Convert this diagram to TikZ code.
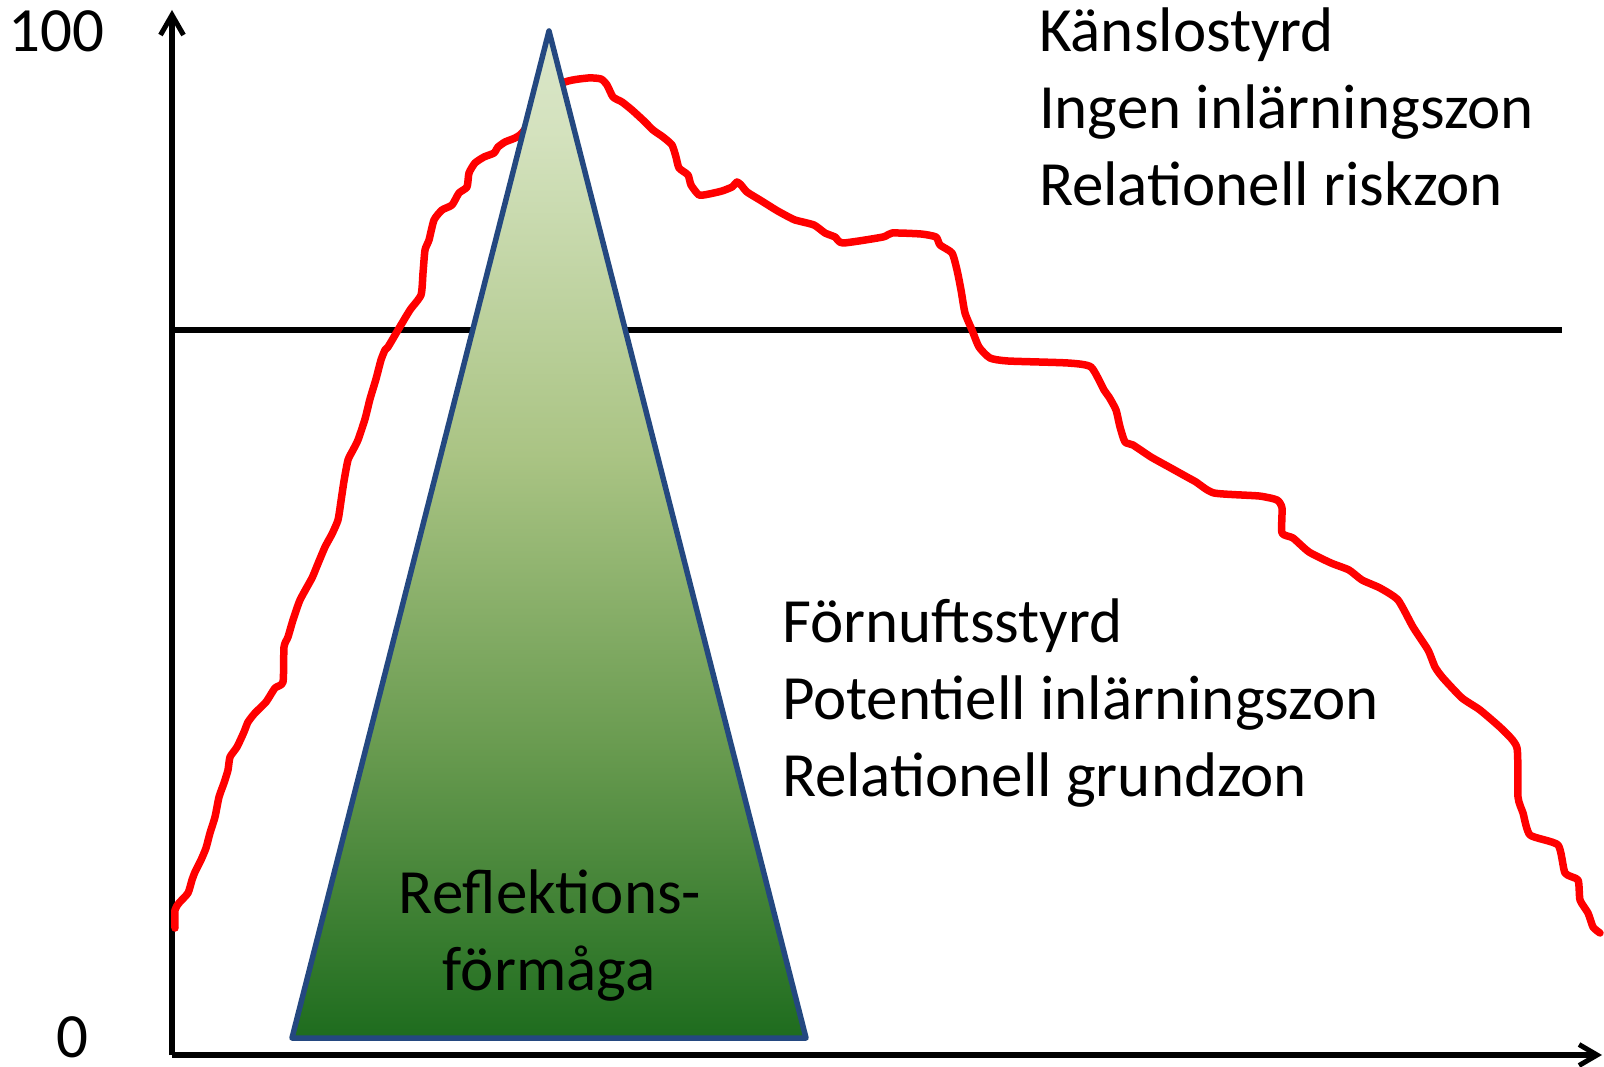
\documentclass[tikz,border=0pt]{standalone}
\usepackage{fontspec}
\setmainfont{Carlito}
\usetikzlibrary{arrows.meta}
\definecolor{curvered}{RGB}{255,0,0}
\definecolor{triblue}{RGB}{36,72,128}
\definecolor{ctop}{RGB}{218,230,201}
\definecolor{cten}{RGB}{212,226,190}
\definecolor{cmid}{RGB}{170,196,132}
\definecolor{clow}{RGB}{105,155,80}
\definecolor{cbot}{RGB}{30,108,30}
\pgfdeclareverticalshading{trishade}{100bp}{color(0bp)=(cbot); color(25bp)=(cbot); color(39.5bp)=(clow); color(54bp)=(cmid); color(70bp)=(cten); color(75bp)=(ctop); color(100bp)=(ctop)}
\tikzset{
  axisline/.style={line width=5.5pt, draw=black},
  lbl/.style={inner sep=0pt, outer sep=0pt, font=\fontsize{63}{76}\selectfont, text=black},
  redcurve/.style={draw=curvered, line width=7.5pt, line join=round, line cap=round},
}
\begin{document}
\begin{tikzpicture}[x=1pt,y=-1pt]
\useasboundingbox (0,0) rectangle (1604,1067);
\fill[white] (0,0) rectangle (1604,1067);

% axes
\coordinate (origin) at (172,1055);
\coordinate (ytop) at (172,10);
\coordinate (xend) at (1602,1055);
\coordinate (hl) at (172,330);
\coordinate (hr) at (1562,330);
\draw[axisline, -{Straight Barb[length=20pt,width=23pt,line width=5pt]}] (origin) -- (ytop);
\draw[axisline, -{Straight Barb[length=18pt,width=21pt,line width=5pt]}] (origin) -- (xend);
\draw[axisline] (hl) -- (hr);

% red curve
\draw[redcurve] plot[smooth, tension=0.35] coordinates {
(175,928)(175,910)(179,903)(188,893)(192,880)(195,872)(201,860)(206,848)(210,833)(215,817)(219,797)(224,783)(228,770)(230,757)(237,747)(244,732)(248,722)(255,713)(266,702)(275,688)(283,682)(284,647)(288,637)(293,620)(300,600)(312,578)(317,566)(325,547)(332,534)(338,520)(341,501)(344,481)(348,460)(353,450)(358,440)(365,419)(370,399)(376,379)(381,360)(385,350)(388,347)(398,330)(410,310)(421,295)(423,273)(425,250)(429,240)(434,220)(442,210)(452,205)(459,193)(467,187)(469,173)(475,163)(484,157)(494,153)(498,147)(505,142)(515,138)(522,133)(540,110)(563,83)(588,78)(601,79)(607,85)(613,97)(622,102)(632,110)(644,121)(653,130)(663,137)(672,145)(676,157)(679,168)(688,175)(691,185)(699,195)(709,194)(722,191)(732,187)(737,182)(741,185)(747,192)(760,200)(776,210)(785,215)(795,220)(814,225)(825,233)(835,237)(843,243)(883,237)(892,233)(921,234)(936,237)(940,245)(952,253)(957,270)(961,290)(965,313)(972,330)(979,347)(990,358)(1008,361)(1068,363)(1091,367)(1104,390)(1109,397)(1116,410)(1120,427)(1125,442)(1133,445)(1151,457)(1169,467)(1187,477)(1196,482)(1214,493)(1259,496)(1277,500)(1282,508)(1282,533)(1293,538)(1309,552)(1331,563)(1349,570)(1362,580)(1380,588)(1398,600)(1413,627)(1428,650)(1435,667)(1443,678)(1462,698)(1480,710)(1503,730)(1517,748)(1518,797)(1523,813)(1530,835)(1558,845)(1565,873)(1578,880)(1580,900)(1588,913)(1593,927)(1600,933)};

% triangle
\coordinate (apex) at (549,31);
\coordinate (bl) at (292,1038);
\coordinate (br) at (806,1038);
\shade[shading=trishade] (apex) -- (br) -- (bl) -- cycle;
\draw[draw=triblue, line width=5.5pt, line join=round] (apex) -- (br) -- (bl) -- cycle;

% labels
\node[lbl, anchor=base east] (l100) at (104,52) {100};
\node[lbl, anchor=base] (l0) at (72,1057) {0};
\node[lbl, anchor=base west] (k1) at (1039,52) {Känslostyrd};
\node[lbl, anchor=base west] (k2) at (1039,129) {Ingen inlärningszon};
\node[lbl, anchor=base west] (k3) at (1039,206) {Relationell riskzon};
\node[lbl, anchor=base west] (f1) at (782,642) {Förnuftsstyrd};
\node[lbl, anchor=base west] (f2) at (782,719) {Potentiell inlärningszon};
\node[lbl, anchor=base west] (f3) at (782,796) {Relationell grundzon};
\node[lbl, anchor=base] (r1) at (550,913) {Reflektions-};
\node[lbl, anchor=base] (r2) at (549,990) {förmåga};
\end{tikzpicture}
\end{document}
